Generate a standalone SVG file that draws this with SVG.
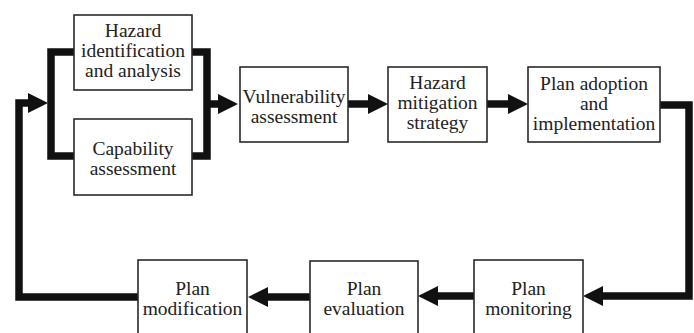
<svg xmlns="http://www.w3.org/2000/svg" width="694" height="333" viewBox="0 0 694 333">
  <style>
    .box { fill: #ffffff; stroke: #2a2a2a; stroke-width: 1.6; }
    .lbl { font-family: "Liberation Serif", "Times New Roman", serif; font-size: 19.5px; fill: #222222; text-anchor: middle; }
    .wire { fill: none; stroke: #111111; stroke-width: 7.5; stroke-linejoin: miter; stroke-linecap: butt; }
  </style>
  <defs>
    <marker id="head" markerUnits="userSpaceOnUse" markerWidth="20" markerHeight="20" viewBox="0 0 20 20" refX="0" refY="10" orient="auto" overflow="visible">
      <path d="M0,0 L20,10 L0,20 Z" fill="#111111"/>
    </marker>
  </defs>
  <rect width="694" height="333" fill="#ffffff"/>

  <g id="connectors">
    <!-- feedback loop from modification back to the start -->
    <path class="wire" d="M138,297 H19 V103 H28" marker-end="url(#head)"/>
    <!-- left bracket joining both first-stage boxes -->
    <path class="wire" d="M74,52 H51 V156 H74"/>
    <!-- right bracket joining both first-stage boxes -->
    <path class="wire" d="M192,52 H207 V156 H192"/>
    <path class="wire" d="M207,104 H218" marker-end="url(#head)"/>
    <path class="wire" d="M348,104 H368" marker-end="url(#head)"/>
    <path class="wire" d="M487,104 H508" marker-end="url(#head)"/>
    <path class="wire" d="M660,105 H689 V296 H603" marker-end="url(#head)"/>
    <path class="wire" d="M474,296 H438" marker-end="url(#head)"/>
    <path class="wire" d="M310,297 H268" marker-end="url(#head)"/>
  </g>

  <g id="hazard-identification">
    <rect class="box" x="74" y="15" width="118" height="75"/>
    <text class="lbl" x="133" y="37">Hazard</text>
    <text class="lbl" x="133" y="57">identification</text>
    <text class="lbl" x="133" y="77">and analysis</text>
  </g>

  <g id="capability-assessment">
    <rect class="box" x="74" y="119" width="118" height="76"/>
    <text class="lbl" x="133" y="155">Capability</text>
    <text class="lbl" x="133" y="175">assessment</text>
  </g>

  <g id="vulnerability-assessment">
    <rect class="box" x="240" y="67" width="108" height="75"/>
    <text class="lbl" x="294" y="103">Vulnerability</text>
    <text class="lbl" x="294" y="123">assessment</text>
  </g>

  <g id="hazard-mitigation">
    <rect class="box" x="388" y="67" width="99" height="75"/>
    <text class="lbl" x="437.5" y="89">Hazard</text>
    <text class="lbl" x="437.5" y="109">mitigation</text>
    <text class="lbl" x="437.5" y="129">strategy</text>
  </g>

  <g id="plan-adoption">
    <rect class="box" x="528" y="67" width="132" height="75"/>
    <text class="lbl" x="594" y="90">Plan adoption</text>
    <text class="lbl" x="594" y="110">and</text>
    <text class="lbl" x="594" y="130">implementation</text>
  </g>

  <g id="plan-monitoring">
    <rect class="box" x="474" y="260" width="109" height="90"/>
    <text class="lbl" x="528.5" y="295">Plan</text>
    <text class="lbl" x="528.5" y="315">monitoring</text>
  </g>

  <g id="plan-evaluation">
    <rect class="box" x="310" y="261" width="108" height="90"/>
    <text class="lbl" x="364" y="295">Plan</text>
    <text class="lbl" x="364" y="315">evaluation</text>
  </g>

  <g id="plan-modification">
    <rect class="box" x="138" y="260" width="109" height="90"/>
    <text class="lbl" x="192.5" y="295">Plan</text>
    <text class="lbl" x="192.5" y="315">modification</text>
  </g>
</svg>
